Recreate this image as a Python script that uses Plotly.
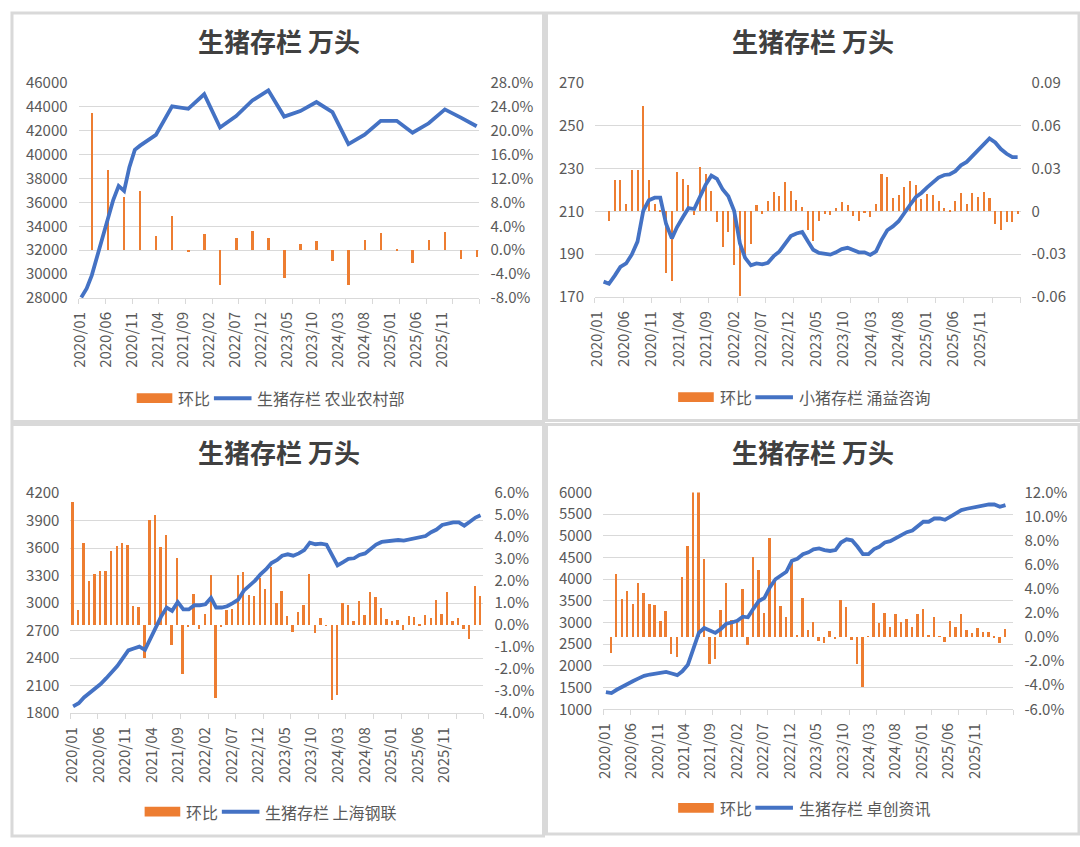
import pandas as pd
import plotly.graph_objects as go

W, H = 1080, 847

# ---------------- data ----------------
tick_labels = ["2020/01", "2020/06", "2020/11", "2021/04", "2021/09", "2022/02", "2022/07",
               "2022/12", "2023/05", "2023/10", "2024/03", "2024/08", "2025/01", "2025/06",
               "2025/11"]

# Panel 1: 农业农村部 (line: monthly 2020, quarterly afterwards; bars quarterly)
p1_line_months = ["2020-01", "2020-02", "2020-03", "2020-04", "2020-05", "2020-06", "2020-07",
                  "2020-08", "2020-09", "2020-10", "2020-11", "2020-12",
                  "2021-03", "2021-06", "2021-09", "2021-12", "2022-03", "2022-06", "2022-09",
                  "2022-12", "2023-03", "2023-06", "2023-09", "2023-12", "2024-03", "2024-06",
                  "2024-09", "2024-12", "2025-03", "2025-06", "2025-09", "2025-12", "2026-03"]
p1_line = [28050, 28800, 29900, 31550, 33100, 34660, 36200, 37380, 36970, 38950, 40400, 40750,
           41650, 44040, 43830, 45050, 42270, 43230, 44530, 45380, 43180, 43640, 44400, 43560,
           40880, 41660, 42830, 42830, 41830, 42620, 43780, 43100, 42370]
p1_bar_months = ["2020-03", "2020-06", "2020-09", "2020-12", "2021-03", "2021-06", "2021-09",
                 "2021-12", "2022-03", "2022-06", "2022-09", "2022-12", "2023-03", "2023-06",
                 "2023-09", "2023-12", "2024-03", "2024-06", "2024-09", "2024-12", "2025-03",
                 "2025-06", "2025-09", "2025-12", "2026-03"]
p1_bar = [22.9, 13.5, 9.0, 9.9, 2.4, 5.7, -0.3, 2.7, -5.8, 2.0, 3.2, 2.0, -4.6, 1.1, 1.6, -1.8,
          -5.8, 1.8, 2.9, 0.3, -2.2, 1.8, 3.1, -1.4, -1.2]

# Panel 2: 小猪存栏 涌益咨询 (monthly)
p2_line_start = "2020-02"
p2_line = [177.2, 176.2, 180.0, 184.1, 185.7, 189.8, 195.9, 210.3, 215.2, 216.4, 216.4, 204.2,
           197.4, 202.7, 207.3, 211.5, 211.1, 216.4, 222.4, 226.7, 225.2, 220.2, 217.1, 210.3,
           195.1, 188.3, 184.8, 185.7, 185.3, 186.0, 189.1, 191.3, 195.1, 198.5, 199.7, 200.4,
           195.9, 192.1, 190.6, 190.3, 189.8, 190.9, 192.4, 193.0, 192.1, 190.9, 190.9, 189.7,
           191.3, 196.6, 201.2, 203.0, 205.4, 208.8, 213.0, 216.7, 218.6, 221.2, 223.7, 225.8,
           227.0, 227.3, 228.8, 231.5, 233.1, 235.8, 238.4, 241.4, 244.1, 242.2, 239.1, 236.9,
           235.3, 235.3]
p2_bar_start = "2020-03"
p2_bar = [-0.68, 2.2, 2.2, 0.55, 2.94, 2.94, 7.38, 2.2, 0.55, 0.1, -4.28, -4.85, 2.78, 2.28,
          1.87, -0.23, 3.1, 2.6, 1.46, -0.75, -2.46, -1.44, -3.78, -5.92, -3.26, -2.28, 0.46,
          -0.18, 0.77, 1.37, 1.09, 2.1, 1.41, 0.84, 0.32, -1.3, -2.05, -0.68, -0.18, -0.23, 0.27,
          0.68, 0.43, -0.3, -0.64, -0.11, -0.41, 0.55, 2.6, 2.41, 0.96, 1.14, 1.71, 2.14, 1.87,
          0.91, 1.25, 1.14, 0.77, 0.27, 0.05, 0.77, 1.32, 0.55, 1.28, 1.0, 1.39, 0.96, -0.87,
          -1.32, -0.75, -0.75, -0.18]

# Panel 3: 上海钢联 (monthly)
p3_line_start = "2020-01"
p3_line = [1875, 1909, 1972, 2019, 2065, 2118, 2179, 2243, 2314, 2398, 2484, 2505, 2526, 2491,
           2604, 2739, 2853, 2952, 2916, 3012, 2931, 2931, 2977, 2977, 2987, 3058, 2952, 2952,
           2966, 3001, 3037, 3136, 3189, 3243, 3313, 3367, 3438, 3470, 3517, 3532, 3517, 3542,
           3578, 3660, 3642, 3649, 3638, 3532, 3411, 3446, 3482, 3489, 3525, 3542, 3589, 3638,
           3667, 3674, 3681, 3688, 3681, 3695, 3702, 3713, 3731, 3773, 3802, 3852, 3869, 3880,
           3880, 3845, 3887, 3933, 3958]
p3_bar_start = "2020-01"
p3_bar = [5.6, 0.68, 3.75, 2.02, 2.3, 2.47, 2.47, 3.38, 3.57, 3.71, 3.63, 0.87, 0.8, -1.49, 4.79,
          4.98, 3.53, 4.08, -0.9, 3.04, -2.23, -0.09, 1.43, -0.2, 0.5, 2.27, -3.31, -0.05, 0.68,
          0.75, 2.27, 2.42, 1.36, 1.31, 2.13, 1.64, 2.65, 1.0, 1.53, 0.4, -0.3, 0.59, 0.89, 2.33,
          -0.37, 0.3, -0.04, -3.41, -3.19, 1.0, 0.93, 0.19, 1.08, 0.47, 1.48, 1.26, 0.79, 0.27,
          0.19, 0.25, -0.22, 0.4, 0.37, 0.04, 0.47, 0.34, 1.16, 0.52, 1.48, 0.19, 0.3, -0.18,
          -0.62, 1.78, 1.33]

# Panel 4: 卓创资讯 (monthly)
p4_line_start = "2020-01"
p4_line = [1397, 1375, 1450, 1525, 1577, 1652, 1712, 1772, 1802, 1817, 1847, 1862, 1825, 1787,
           1877, 2027, 2387, 2762, 2874, 2822, 2762, 2852, 2972, 3002, 3039, 3137, 3122, 3324,
           3496, 3571, 3811, 3999, 4096, 4171, 4426, 4471, 4576, 4621, 4688, 4711, 4673, 4651,
           4673, 4846, 4921, 4898, 4748, 4576, 4576, 4696, 4748, 4846, 4876, 4951, 5026, 5085,
           5123, 5220, 5325, 5325, 5400, 5400, 5370, 5445, 5513, 5595, 5625, 5648, 5685, 5700,
           5723, 5723, 5670, 5708]
p4_bar_start = "2020-02"
p4_bar = [-1.33, 5.2, 3.1, 3.77, 2.72, 4.45, 3.64, 2.72, 2.64, 1.29, 2.1, -1.41, -1.73, 4.98,
          7.49, 13.0, 13.0, 6.46, -2.3, -1.87, 2.23, 4.45, 1.37, 1.29, 3.91, -0.68, 6.6, 5.55,
          1.96, 8.17, 4.6, 2.5, 1.64, 6.22, 0.05, 3.23, 0.56, 1.22, -0.38, -0.51, 0.49, -0.24,
          3.0, 2.44, -0.32, -2.27, -4.2, 0.03, 2.79, 1.16, 1.98, 0.76, 1.84, 1.22, 1.43, 0.76,
          1.84, 2.25, 0.16, 1.65, 0.02, -0.46, 1.25, 0.76, 1.84, 0.57, 0.3, 0.7, 0.41, 0.41,
          -0.05, -0.51, 0.62]

titles = ["生猪存栏 万头"] * 4
bar_name = "环比"
line_names = ["生猪存栏 农业农村部", "小猪存栏 涌益咨询", "生猪存栏 上海钢联", "生猪存栏 卓创资讯"]

# ---------------- helpers ----------------
BASE = pd.Timestamp("2020-01-01")
MONTH_DAYS = 30.4375

def mid(months):
    return [pd.Timestamp(m + "-01") + pd.Timedelta(days=15) for m in months]

def monthly(start, n):
    return [d + pd.Timedelta(days=15) for d in pd.date_range(start + "-01", periods=n, freq="MS")]

def at_month(offset):
    return BASE + pd.Timedelta(days=offset * MONTH_DAYS)

# tick marks every 5 months (incl. axis end); labels sit slightly compressed as in the source
tick_mark_dates = list(pd.date_range("2020-01-01", periods=16, freq="5MS"))
label_dates = [at_month(0.3 + 4.83 * i) for i in range(len(tick_labels))]
X_RANGE = [pd.Timestamp("2020-01-01"), pd.Timestamp("2026-04-01")]
BAR_W = 11 * 24 * 3600 * 1000

ORANGE = "#ED7D31"
BLUE = "#4472C4"
GRID = "#D9D9D9"
TXT = "#595959"
FONT = "Noto Sans CJK SC"

def px_x(x):
    return x / W

def px_y(y):
    return 1 - y / H

panels = [
    dict(xd=(68.3, 473.3), yd=(72.7, 293.3),
         line_x=mid(p1_line_months), line_y=p1_line,
         bar_x=mid(p1_bar_months), bar_y=[v / 100 for v in p1_bar],
         left=(28000, 46000, 2000, lambda v: f"{v:d}"),
         right=(-0.08, 0.28, 0.04, lambda v: f"{v*100:.1f}%"),
         title_xy=(271, 29), legend_xy=(127, 396)),
    dict(xd=(590, 1020), yd=(72.7, 292.3),
         line_x=monthly(p2_line_start, len(p2_line)), line_y=p2_line,
         bar_x=monthly(p2_bar_start, len(p2_bar)), bar_y=[v / 100 for v in p2_bar],
         left=(170, 270, 20, lambda v: f"{v:d}"),
         right=(-0.06, 0.09, 0.03, lambda v: "0" if abs(v) < 1e-9 else f"{v:.2f}"),
         title_xy=(810, 29), legend_xy=(674, 395)),
    dict(xd=(60, 477.3), yd=(493.3, 719),
         line_x=monthly(p3_line_start, len(p3_line)), line_y=p3_line,
         bar_x=monthly(p3_bar_start, len(p3_bar)), bar_y=[v / 100 for v in p3_bar],
         left=(1800, 4200, 300, lambda v: f"{v:d}"),
         right=(-0.04, 0.06, 0.01, lambda v: f"{v*100:.1f}%"),
         title_xy=(271, 451), legend_xy=(135, 820)),
    dict(xd=(598.3, 1012.7), yd=(492.7, 715),
         line_x=monthly(p4_line_start, len(p4_line)), line_y=p4_line,
         bar_x=monthly(p4_bar_start, len(p4_bar)), bar_y=[v / 100 for v in p4_bar],
         left=(1000, 6000, 500, lambda v: f"{v:d}"),
         right=(-0.06, 0.12, 0.02, lambda v: f"{v*100:.1f}%"),
         title_xy=(810, 451), legend_xy=(674, 816)),
]

fig = go.Figure()
layout = dict(width=W, height=H, autosize=False, margin=dict(l=0, r=0, t=0, b=0, pad=0),
              paper_bgcolor="white", plot_bgcolor="white",
              font=dict(family=FONT, color=TXT, size=15),
              bargap=0, showlegend=False, annotations=[], shapes=[])

def ticks(lo, hi, step, fmt, is_int):
    vals, labels = [], []
    n = int(round((hi - lo) / step))
    for i in range(n + 1):
        v = lo + i * step
        v = int(round(v)) if is_int else round(v, 6)
        vals.append(v)
        labels.append(fmt(v))
    return vals, labels

for k, p in enumerate(panels, start=1):
    xa = "x" if k == 1 else f"x{k}"
    ya_r = 2 * k - 1
    ya_l = 2 * k
    yr_name = "y" if ya_r == 1 else f"y{ya_r}"
    yl_name = f"y{ya_l}"

    fig.add_trace(go.Bar(x=p["bar_x"], y=p["bar_y"], name=bar_name, marker_color=ORANGE,
                         marker_line_width=0, width=BAR_W, xaxis=xa, yaxis=yr_name))
    fig.add_trace(go.Scatter(x=p["line_x"], y=p["line_y"], name=line_names[k - 1],
                             mode="lines", line=dict(color=BLUE, width=3.8),
                             xaxis=xa, yaxis=yl_name))

    x0, x1 = p["xd"]
    yt, yb = p["yd"]
    xdom = [px_x(x0), px_x(x1)]
    ydom = [px_y(yb), px_y(yt)]

    layout["xaxis" if k == 1 else f"xaxis{k}"] = dict(
        type="date", domain=xdom, anchor=yr_name, range=X_RANGE,
        tickmode="array", tickvals=label_dates, ticktext=tick_labels,
        tickangle=-90, ticks="", ticklabelstandoff=7,
        minor=dict(tickmode="array", tickvals=tick_mark_dates, ticks="outside", ticklen=5,
                   tickcolor=GRID, tickwidth=1, showgrid=False),
        showline=True, linecolor=GRID, linewidth=1, showgrid=False, zeroline=False,
        tickfont=dict(size=15, color=TXT, family=FONT), fixedrange=True)

    lo, hi, st, fmt = p["right"]
    rv, rt = ticks(lo, hi, st, fmt, False)
    layout["yaxis" if ya_r == 1 else f"yaxis{ya_r}"] = dict(
        domain=ydom, anchor=xa, side="right", range=[lo, hi],
        tickmode="array", tickvals=rv, ticktext=rt, showgrid=False, zeroline=False,
        showline=False, ticks="", ticklabelstandoff=10,
        tickfont=dict(size=15, color=TXT, family=FONT))

    lo, hi, st, fmt = p["left"]
    lv, lt = ticks(lo, hi, st, fmt, True)
    layout[f"yaxis{ya_l}"] = dict(
        overlaying=yr_name, anchor=xa, side="left", range=[lo, hi],
        tickmode="array", tickvals=lv, ticktext=lt, showgrid=True, gridcolor=GRID,
        gridwidth=1, zeroline=False, showline=False, ticks="", ticklabelstandoff=10,
        tickfont=dict(size=15, color=TXT, family=FONT))

    tx, ty = p["title_xy"]
    layout["annotations"].append(dict(
        text="<b>" + titles[k - 1] + "</b>", x=px_x(tx), y=px_y(ty), xref="paper",
        yref="paper", xanchor="center", yanchor="middle", showarrow=False,
        font=dict(size=26, color="#404040", family=FONT)))

    # legend (key shapes + text)
    lx, ly = p["legend_xy"]
    layout["shapes"].append(dict(type="rect", xref="paper", yref="paper",
                                 x0=px_x(lx), x1=px_x(lx + 36), y0=px_y(ly + 5), y1=px_y(ly - 5),
                                 fillcolor=ORANGE, line=dict(width=0)))
    layout["annotations"].append(dict(text=bar_name, x=px_x(lx + 40), y=px_y(ly), xref="paper",
                                      yref="paper", xanchor="left", yanchor="middle",
                                      showarrow=False, font=dict(size=16, color=TXT, family=FONT)))
    layout["shapes"].append(dict(type="line", xref="paper", yref="paper",
                                 x0=px_x(lx + 78), x1=px_x(lx + 116), y0=px_y(ly), y1=px_y(ly),
                                 line=dict(color=BLUE, width=4)))
    layout["annotations"].append(dict(text=line_names[k - 1], x=px_x(lx + 120), y=px_y(ly),
                                      xref="paper", yref="paper", xanchor="left",
                                      yanchor="middle", showarrow=False,
                                      font=dict(size=16, color=TXT, family=FONT)))

# panel frames
frames = [(1, 1, 538, 420), (541, 1, 1079, 419), (1, 423, 538, 845), (541, 423, 1079, 843)]
for (a, b, c, d) in frames:
    layout["shapes"].append(dict(type="rect", xref="paper", yref="paper",
                                 x0=px_x(a), x1=px_x(c), y0=px_y(d), y1=px_y(b),
                                 line=dict(color="#D9D9D9", width=3), layer="below"))

fig.update_layout(**layout)
fig.write_html("out.html", config={"displayModeBar": False, "responsive": False},
               post_script="document.body.style.margin='0';document.body.style.overflow='hidden';")
